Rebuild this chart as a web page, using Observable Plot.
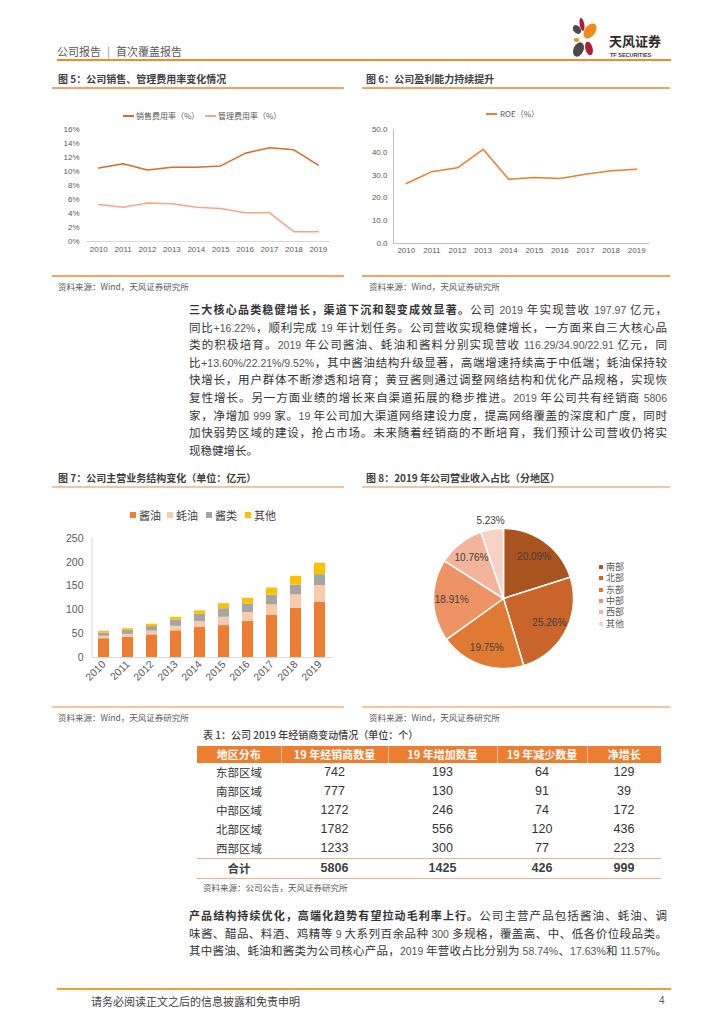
<!DOCTYPE html>
<html><head><meta charset="utf-8">
<script src="https://cdn.jsdelivr.net/npm/d3@7"></script>
<script src="https://cdn.jsdelivr.net/npm/@observablehq/plot@0.6"></script>
<style>
body{margin:0;background:#fff;font-family:"Noto Sans CJK SC","Noto Sans",sans-serif;color:#333;}
#page{position:relative;width:724px;height:1024px;overflow:hidden;background:#fff;}
.abs{position:absolute;white-space:nowrap;}
.num{font-family:"Liberation Sans",Arial,sans-serif;font-size:10.5px;color:#555;}
.pline{position:absolute;left:189px;width:478px;height:18px;line-height:18px;font-size:11.5px;color:#333;white-space:nowrap;text-align:justify;text-align-last:justify;}
.lead{font-weight:700;font-size:11px;color:#333;}
.ftitle{position:absolute;font-size:10px;font-weight:700;color:#404040;line-height:14px;white-space:nowrap;}
.src{position:absolute;font-size:8.5px;color:#595959;line-height:12px;white-space:nowrap;}
.hl{position:absolute;}
table.t{position:absolute;left:197px;top:746px;border-collapse:collapse;table-layout:fixed;}
table.t td, table.t th{padding:0;text-align:center;}
table.t th{background:#ED7D31;color:#fff;font-weight:700;font-size:11px;height:17px;line-height:17px;border-left:1px solid rgba(255,255,255,0.55);}
table.t th:first-child{border-left:none;}
table.t td{height:19px;line-height:19px;font-family:"Liberation Sans",Arial,sans-serif;font-size:12.5px;color:#333;}
table.t td.cj{font-family:"Noto Sans CJK SC",sans-serif;font-size:11.5px;}
table.t tr.tot td{border-top:1px solid #F4B183;border-bottom:1px solid #F4B183;font-weight:700;color:#404040;}
</style></head>
<body><div id="page"></div>
<script>
// ---------------- data ----------------
const years = [2010, 2011, 2012, 2013, 2014, 2015, 2016, 2017, 2018, 2019];
const expSeries = ["销售费用率（%）", "管理费用率（%）"];
const salesRate = [10.5, 11.1, 10.2, 10.6, 10.6, 10.8, 12.6, 13.4, 13.1, 10.9];
const mgmtRate  = [5.3, 4.9, 5.5, 5.4, 4.9, 4.7, 4.1, 4.1, 1.4, 1.4];
const roeLabel = "ROE（%）";
const roe = [26.3, 31.5, 33.2, 41.3, 28.2, 29.0, 28.5, 30.4, 31.9, 32.6];
const productCats = ["酱油", "蚝油", "酱类", "其他"];
const soySauce  = [39.5, 42.0, 47.5, 56.0, 63.0, 67.0, 76.0, 89.0, 103.0, 116.29];
const oysterSauce = [5.0, 6.5, 8.0, 9.5, 12.5, 17.5, 18.5, 21.5, 28.5, 34.90];
const pasteSauce = [6.5, 8.5, 9.5, 12.5, 15.5, 18.0, 18.0, 20.5, 20.5, 22.91];
const otherProd  = [4.0, 3.5, 5.0, 6.0, 7.0, 10.5, 12.0, 15.0, 18.5, 23.87];
const regions = ["南部", "北部", "东部", "中部", "西部", "其他"];
const regionShare = [20.09, 25.26, 19.75, 18.91, 10.76, 5.23];
const tableTitle = "表 1：公司 2019 年经销商变动情况（单位：个）";
const tableHeader = ["地区分布", "19 年经销商数量", "19 年增加数量", "19 年减少数量", "净增长"];
const tableRegions = ["东部区域", "南部区域", "中部区域", "北部区域", "西部区域"];
const dealers = [742, 777, 1272, 1782, 1233];
const dealersAdded = [193, 130, 246, 556, 300];
const dealersRemoved = [64, 91, 74, 120, 77];
const dealersNet = [129, 39, 172, 436, 223];
const totalLabel = "合计";
const para1Lead = "三大核心品类稳健增长，渠道下沉和裂变成效显著。";
const para1Lines = [
  "公司 2019 年实现营收 197.97 亿元，",
  "同比+16.22%，顺利完成 19 年计划任务。公司营收实现稳健增长，一方面来自三大核心品",
  "类的积极培育。2019 年公司酱油、蚝油和酱料分别实现营收 116.29/34.90/22.91 亿元，同",
  "比+13.60%/22.21%/9.52%，其中酱油结构升级显著，高端增速持续高于中低端；蚝油保持较",
  "快增长，用户群体不断渗透和培育；黄豆酱则通过调整网络结构和优化产品规格，实现恢",
  "复性增长。另一方面业绩的增长来自渠道拓展的稳步推进。2019 年公司共有经销商 5806",
  "家，净增加 999 家。19 年公司加大渠道网络建设力度，提高网络覆盖的深度和广度，同时",
  "加快弱势区域的建设，抢占市场。未来随着经销商的不断培育，我们预计公司营收仍将实",
  "现稳健增长。"
];
const para2Lead = "产品结构持续优化，高端化趋势有望拉动毛利率上行。";
const para2Lines = [
  "公司主营产品包括酱油、蚝油、调",
  "味酱、醋品、料酒、鸡精等 9 大系列百余品种 300 多规格，覆盖高、中、低各价位段品类。",
  "其中酱油、蚝油和酱类为公司核心产品，2019 年营收占比分别为 58.74%、17.63%和 11.57%。"
];
const fig5Title = "图 5：公司销售、管理费用率变化情况";
const fig6Title = "图 6：公司盈利能力持续提升";
const fig7Title = "图 7：公司主营业务结构变化（单位：亿元）";
const fig8Title = "图 8：2019 年公司营业收入占比（分地区）";
const sourceWind = "资料来源：Wind，天风证券研究所";
const sourceTable = "资料来源：公司公告，天风证券研究所";
const headerParts = ["公司报告", "首次覆盖报告"];
const footerText = "请务必阅读正文之后的信息披露和免责申明";
const pageNo = "4";

// ---------------- helpers ----------------
const page = document.getElementById("page");
function div(cls, html, css) {
  const d = document.createElement("div");
  if (cls) d.className = cls;
  d.innerHTML = html;
  Object.assign(d.style, css);
  page.appendChild(d);
  return d;
}
function hline(x1, x2, y, h, color) {
  div("hl", "", {left: x1 + "px", top: (y - h / 2) + "px", width: (x2 - x1) + "px", height: h + "px", background: color});
}
function place(svg, left, top) {
  Object.assign(svg.style, {position: "absolute", left: left + "px", top: top + "px", background: "transparent", overflow: "visible", maxWidth: "none"});
  page.appendChild(svg);
}
const numWrap = s => s.replace(/\+?\d[\d.\/%]*/g, m => `<span class="num">${m}</span>`);
const axisFont = "Liberation Sans, Arial, Noto Sans CJK SC, sans-serif";

// ---------------- header ----------------
div("abs", `${headerParts[0]}<span style="color:#8c8c8c;margin:0 6px">|</span>${headerParts[1]}`,
    {left: "57px", top: "43px", fontSize: "11px", lineHeight: "16px", color: "#595959"});
hline(57, 671, 60, 2, "#F08C2E");
div("abs", `<svg width="110" height="48" viewBox="0 0 110 48" style="position:static">
 <ellipse cx="9" cy="15.5" rx="3.6" ry="5" transform="rotate(-40 9 15.5)" fill="#4a4a4a"/>
 <ellipse cx="14" cy="10.5" rx="2.3" ry="6.5" transform="rotate(-10 14 10.5)" fill="#B31B34"/>
 <ellipse cx="22" cy="17" rx="5.3" ry="8.5" transform="rotate(35 22 17)" fill="#F08A1C"/>
 <ellipse cx="8.5" cy="26" rx="2.6" ry="1.9" fill="#F08A1C"/>
 <ellipse cx="10.5" cy="35.5" rx="5" ry="7.5" transform="rotate(25 10.5 35.5)" fill="#4a4a4a"/>
 <ellipse cx="21" cy="34.5" rx="3.6" ry="7" transform="rotate(-15 21 34.5)" fill="#B31B34"/>
 <text x="41" y="32" font-size="13" font-weight="700" fill="#2b2b2b" font-family="Noto Sans CJK SC">天风证券</text>
 <text x="42" y="43" font-size="5.5" font-weight="700" fill="#3a3a3a" font-family="Liberation Sans">TF SECURITIES</text>
</svg>`, {left: "568px", top: "14px"});

// ---------------- figure titles / rules ----------------
div("ftitle", fig5Title, {left: "58px", top: "72px"});
div("ftitle", fig6Title, {left: "366px", top: "72px"});
hline(52, 344, 88, 1.5, "#F5A35E");
hline(362, 670, 88, 1.5, "#F5A35E");
hline(52, 344, 276, 1.5, "#F5A35E");
hline(362, 670, 276, 1.5, "#F5A35E");
div("src", sourceWind, {left: "58px", top: "280px"});
div("src", sourceWind, {left: "369px", top: "280px"});

div("ftitle", fig7Title, {left: "58px", top: "471px"});
div("ftitle", fig8Title, {left: "366px", top: "471px"});
hline(52, 344, 487, 1.5, "#F8C4A0");
hline(362, 670, 487, 1.5, "#F8C4A0");
hline(52, 344, 707, 1.5, "#F8C4A0");
hline(362, 670, 707, 1.5, "#F8C4A0");
div("src", sourceWind, {left: "58px", top: "711px"});
div("src", sourceWind, {left: "369px", top: "711px"});

// ---------------- chart 1: expense ratios ----------------
const expColors = ["#DA6B2B", "#F4A688"];
const expData = years.flatMap((yr, i) => [
  {year: yr, series: expSeries[0], value: salesRate[i]},
  {year: yr, series: expSeries[1], value: mgmtRate[i]}
]);
const c1 = Plot.plot({
  width: 300, height: 140, marginLeft: 36, marginRight: 20, marginTop: 9, marginBottom: 19,
  style: {fontFamily: axisFont, color: "#595959", background: "transparent"},
  x: {domain: [2009.5, 2019.5]},
  y: {domain: [0, 16]},
  color: {domain: expSeries, range: expColors},
  marks: [
    Plot.ruleY([0], {stroke: "#D9D9D9"}),
    Plot.axisX(years, {tickSize: 0, tickPadding: 5, tickFormat: "d", fontSize: 8, label: null}),
    Plot.axisY(d3.range(0, 17, 2), {tickSize: 0, tickPadding: 7, tickFormat: d => d + "%", fontSize: 8, label: null}),
    Plot.line(expData, {x: "year", y: "value", stroke: "series", strokeWidth: 1.5})
  ]
});
place(c1, 50, 120);
[[123, 136], [205, 218]].forEach(([sx, tx], i) => {
  hline(sx, sx + 11, 116, 1.5, expColors[i]);
  div("abs", expSeries[i], {left: tx + "px", top: "110px", fontSize: "8px", lineHeight: "12px", color: "#595959"});
});

// ---------------- chart 2: ROE ----------------
const roeData = years.map((yr, i) => ({year: yr, value: roe[i]}));
const c2 = Plot.plot({
  width: 310, height: 140, marginLeft: 33, marginRight: 21, marginTop: 9, marginBottom: 17,
  style: {fontFamily: axisFont, color: "#595959", background: "transparent"},
  x: {domain: [2009.5, 2019.5]},
  y: {domain: [0, 50]},
  marks: [
    Plot.ruleY([0], {stroke: "#BFBFBF"}),
    Plot.ruleX([2009.5], {stroke: "#BFBFBF"}),
    Plot.axisX(years, {tickSize: 0, tickPadding: 4, tickFormat: "d", fontSize: 8, label: null}),
    Plot.axisY(d3.range(0, 51, 10), {tickSize: 0, tickPadding: 6, tickFormat: d3.format(".1f"), fontSize: 8, label: null}),
    Plot.line(roeData, {x: "year", y: "value", stroke: "#ED7D31", strokeWidth: 1.5})
  ]
});
place(c2, 360, 120);
hline(486, 497, 114, 1.5, "#ED7D31");
div("abs", roeLabel, {left: "500px", top: "108px", fontSize: "8px", lineHeight: "12px", color: "#595959"});

// ---------------- paragraph 1 ----------------
para1Lines.forEach((ln, i) => {
  const html = (i === 0 ? `<span class="lead">${para1Lead}</span>` : "") + numWrap(ln);
  const d = div("pline", html, {top: (309 + i * 17.6 - 9) + "px"});
  if (i === para1Lines.length - 1) { d.style.textAlignLast = "left"; d.style.textAlign = "left"; }
});

// ---------------- chart 3: stacked bars ----------------
const productSeries = [soySauce, oysterSauce, pasteSauce, otherProd];
const productColors = ["#ED7D31", "#F8CBAD", "#A5A5A5", "#FFC000"];
const barData = years.flatMap((yr, i) => productCats.map((c, j) => ({year: String(yr), cat: c, value: productSeries[j][i]})));
const c3 = Plot.plot({
  width: 300, height: 170, marginLeft: 42, marginRight: 18, marginTop: 8, marginBottom: 43,
  style: {fontFamily: axisFont, color: "#595959", background: "transparent"},
  x: {domain: years.map(String), paddingInner: 0.54, paddingOuter: 0.27},
  y: {domain: [0, 250]},
  color: {domain: productCats, range: productColors},
  marks: [
    Plot.barY(barData, {x: "year", y: "value", fill: "cat"}),
    Plot.ruleY([0], {stroke: "#D9D9D9"}),
    Plot.ruleX([String(years[0])], {dx: -12, stroke: "#D9D9D9"}),
    Plot.axisX({tickRotate: -45, tickSize: 0, tickPadding: 5, fontSize: 10.5, label: null}),
    Plot.axisY(d3.range(0, 251, 50), {tickSize: 0, tickPadding: 9, fontSize: 10.5, label: null})
  ]
});
place(c3, 50, 530);
[[130, 139], [167, 176], [206, 215], [245, 254]].forEach(([sx, tx], i) => {
  div("abs", "", {left: sx + "px", top: "512px", width: "6px", height: "6px", background: productColors[i]});
  div("abs", productCats[i], {left: tx + "px", top: "507px", fontSize: "11px", lineHeight: "16px", color: "#404040"});
});

// ---------------- chart 4: pie ----------------
const pieColors = ["#A9541F", "#C9652A", "#E07A32", "#EE9464", "#F3B49B", "#F8D2C4"];
const pieData = regions.map((r, i) => ({region: r, share: regionShare[i]}));
const arcs = d3.pie().sort(null).value(d => d.share)(pieData);
const piePts = arcs.flatMap(a => {
  const n = Math.max(2, Math.ceil((a.endAngle - a.startAngle) / (Math.PI / 180)));
  const pts = [{region: a.data.region, x: 0, y: 0}];
  for (let k = 0; k <= n; k++) {
    const t = a.startAngle + (a.endAngle - a.startAngle) * k / n;
    pts.push({region: a.data.region, x: Math.sin(t), y: Math.cos(t)});
  }
  return pts;
});
const pieLabels = arcs.map((a, i) => {
  const m = (a.startAngle + a.endAngle) / 2;
  const rho = a.data.share < 8 ? 1.13 : 0.74;
  return {x: rho * Math.sin(m), y: rho * Math.cos(m), text: d3.format(".2f")(a.data.share) + "%"};
});
const c4 = Plot.plot({
  width: 180, height: 180, margin: 20,
  style: {fontFamily: axisFont, background: "transparent"},
  x: {domain: [-1, 1], axis: null},
  y: {domain: [-1, 1], axis: null},
  color: {domain: regions, range: pieColors},
  marks: [
    Plot.line(piePts, {x: "x", y: "y", z: "region", fill: "region", stroke: "#fff", strokeWidth: 1.5, curve: "linear-closed"}),
    Plot.text(pieLabels, {x: "x", y: "y", text: "text", fontSize: 10, fill: "#404040"})
  ]
});
place(c4, 413, 508);
regions.forEach((r, i) => {
  const cy = 567 + i * 11.3;
  div("abs", "", {left: "599px", top: (cy - 2) + "px", width: "4px", height: "4px", background: pieColors[i]});
  div("abs", r, {left: "606px", top: (cy - 6) + "px", fontSize: "9px", lineHeight: "12px", color: "#595959"});
});

// ---------------- table ----------------
div("abs", tableTitle, {left: "203px", top: "728px", fontSize: "10px", lineHeight: "14px", color: "#404040", fontWeight: "500"});
const colW = [84, 107, 109, 90, 74];
const sum = a => a.reduce((s, v) => s + v, 0);
let th = `<colgroup>${colW.map(w => `<col style="width:${w}px">`).join("")}</colgroup>`;
th += `<tr>${tableHeader.map(h => `<th>${h}</th>`).join("")}</tr>`;
tableRegions.forEach((r, i) => {
  th += `<tr><td class="cj">${r}</td><td>${dealers[i]}</td><td>${dealersAdded[i]}</td><td>${dealersRemoved[i]}</td><td>${dealersNet[i]}</td></tr>`;
});
th += `<tr class="tot"><td class="cj">${totalLabel}</td><td>${sum(dealers)}</td><td>${sum(dealersAdded)}</td><td>${sum(dealersRemoved)}</td><td>${sum(dealersNet)}</td></tr>`;
const tbl = document.createElement("table");
tbl.className = "t";
tbl.style.width = sum(colW) + "px";
tbl.innerHTML = th;
page.appendChild(tbl);
div("src", sourceTable, {left: "203px", top: "881px"});

// ---------------- paragraph 2 ----------------
para2Lines.forEach((ln, i) => {
  const html = (i === 0 ? `<span class="lead">${para2Lead}</span>` : "") + numWrap(ln);
  div("pline", html, {top: (915 + i * 17.5 - 9) + "px"});
});

// ---------------- footer ----------------
hline(57, 671, 989, 2, "#F0A030");
div("abs", footerText, {left: "91px", top: "993px", fontSize: "11px", lineHeight: "16px", color: "#404040"});
div("abs", pageNo, {left: "659px", top: "993px", fontSize: "10px", lineHeight: "16px", color: "#595959", fontFamily: "Liberation Sans"});
</script>
</body></html>
